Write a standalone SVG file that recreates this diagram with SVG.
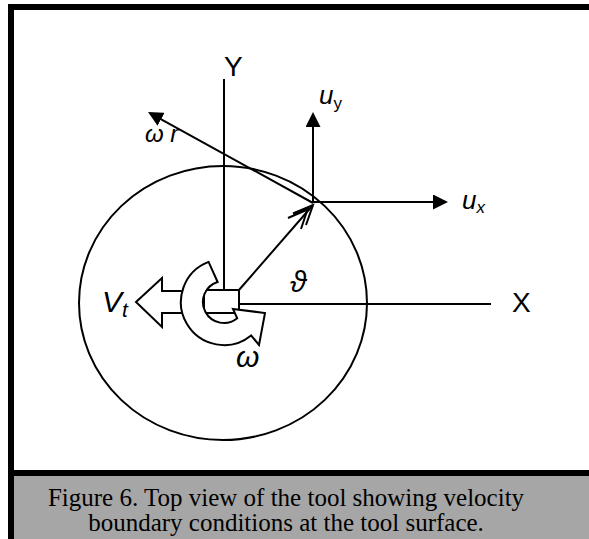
<svg xmlns="http://www.w3.org/2000/svg" width="589" height="539" viewBox="0 0 589 539">
<style>
.ln{stroke:#000;stroke-width:2;fill:none}
.shape{stroke:#000;stroke-width:2;fill:#fff;stroke-linejoin:miter}
.lbl{font-family:"Liberation Sans",Arial,"DejaVu Sans",sans-serif;fill:#000}
.it{font-style:italic}
.cap{font-family:"Liberation Serif","Times New Roman",serif;font-size:25px;fill:#000;text-anchor:middle}
</style>
<defs>
<marker id="tri" viewBox="0 0 15 15" refX="2" refY="7.5" markerWidth="15" markerHeight="15" markerUnits="userSpaceOnUse" orient="auto">
<path d="M0,0 L15,7.5 L0,15 Z" fill="#000"/>
</marker>
</defs>
<rect width="589" height="539" fill="#fff"/>
<g id="frame">
<rect x="14" y="476" width="575" height="63" fill="#a6a6a6"/>
<rect x="8" y="4" width="581" height="6" fill="#000"/>
<rect x="8" y="4" width="6" height="535" fill="#000"/>
<rect x="8" y="470" width="581" height="6" fill="#000"/>
</g>
<g id="tool-boundary">
<ellipse cx="223" cy="303" rx="144" ry="137" class="ln"/>
</g>
<g id="connectors">
<line x1="224" y1="79" x2="224" y2="290" class="ln"/>
<line x1="239" y1="304" x2="491" y2="304" class="ln"/>
<line x1="239" y1="290" x2="313" y2="205" class="ln"/>
<path d="M293,213.5 L313,205 L306,225 M288,218 L307.5,209.5 L301,229" class="ln"/>
<line x1="313" y1="203" x2="159.4" y2="118.3" class="ln" marker-end="url(#tri)"/>
<line x1="313" y1="203" x2="313" y2="125" class="ln" marker-end="url(#tri)"/>
<line x1="313" y1="202" x2="435" y2="202" class="ln" marker-end="url(#tri)"/>
</g>
<g id="tool-pin">
<rect x="204" y="290" width="35" height="23" class="shape"/>
</g>
<g id="vt-arrow">
<polygon points="136,302 162,278 162,291 192,291 192,313 162,313 162,327" class="shape"/>
</g>
<g id="omega-arrow">
<path d="M208.6,261.9 A43,43 0 1 0 251.1,335.4 L259,345 L265,313 L233,309 L237.2,318.3 A21,21 0 1 1 217.6,282 Z" class="shape"/>
</g>
<g id="labels">
<text x="224" y="76" class="lbl" font-size="28">Y</text>
<text x="512" y="312" class="lbl" font-size="28">X</text>
<text x="145" y="142" class="lbl it" font-size="24">ω r</text>
<text x="319" y="104" class="lbl it" font-size="26">u<tspan font-size="17" font-style="normal" dy="5">y</tspan></text>
<text x="462" y="209" class="lbl it" font-size="26">u<tspan font-size="17" dy="4">x</tspan></text>
<text x="102" y="312" class="lbl it" font-size="30">V<tspan font-size="21" dy="5">t</tspan></text>
<text x="236" y="367" class="lbl it" font-size="30">ω</text>
<text x="290" y="292" class="lbl it" font-size="30">ϑ</text>
</g>
<g id="caption">
<text x="286" y="506" class="cap">Figure 6. Top view of the tool showing velocity</text>
<text x="286" y="531" class="cap">boundary conditions at the tool surface.</text>
</g>
</svg>
